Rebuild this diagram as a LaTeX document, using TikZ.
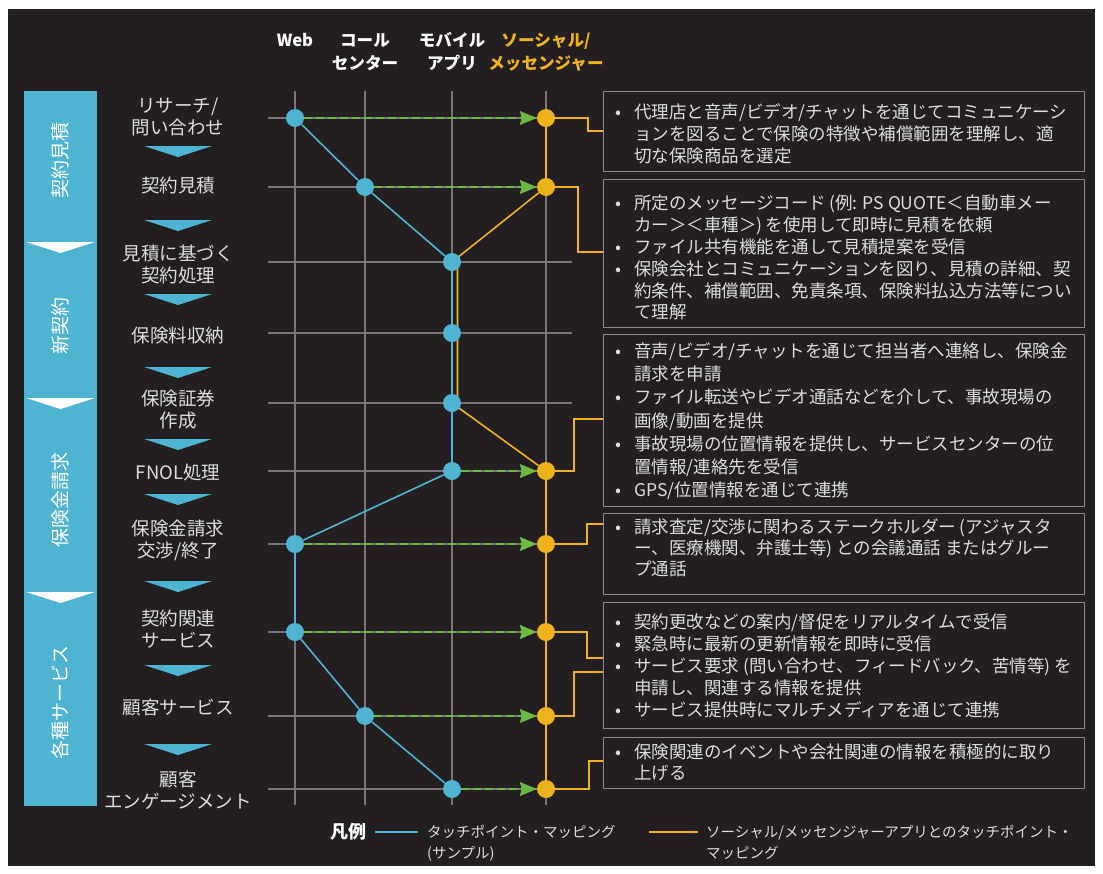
\documentclass[tikz,border=0pt]{standalone}
\usepackage{fontspec}
\setmainfont{Noto Sans CJK JP}
\usetikzlibrary{arrows.meta}
\definecolor{bgdark}{HTML}{231F20}
\definecolor{gridgray}{HTML}{77777A}
\definecolor{tpblue}{HTML}{4FB3D2}
\definecolor{tpyellow}{HTML}{EFB31A}
\definecolor{tpgreen}{HTML}{6DB843}
\definecolor{txtlight}{HTML}{DCDCDC}
\definecolor{boxgray}{HTML}{8A8A8A}
\pgfdeclarelayer{bglayer}
\pgfdeclarelayer{edgelayer}
\pgfsetlayers{bglayer,edgelayer,main}
\newcommand\fstrut{\rule{0pt}{0.86em}}
\newcommand\bulletmark{\llap{\makebox[32pt][c]{•}}}
\begin{document}
\begin{tikzpicture}[x=1pt,y=-1pt,
  gridline/.style={draw=gridgray,line width=1.4pt},
  bdot/.style={circle,fill=tpblue,minimum size=18pt,inner sep=0pt},
  ydot/.style={circle,fill=tpyellow,minimum size=18pt,inner sep=0pt},
  bline/.style={draw=tpblue,line width=1.6pt},
  yline/.style={draw=tpyellow,line width=1.6pt,line join=round},
  yconn/.style={draw=tpyellow,line width=1.4pt},
  garrow/.style={draw=tpgreen,line width=2.8pt,dash pattern=on 8pt off 4pt,-{Stealth[length=17pt,width=14pt,inset=2pt,line width=0.5pt]}},
  infobox/.style={draw=boxgray,line width=1.3pt,inner sep=0pt,anchor=north west,minimum width=481pt},
  boxtext/.style={font=\fontsize{17.5pt}{#1pt}\selectfont,align=left,inner sep=0pt,text=txtlight,anchor=north west},
  steplabel/.style={font=\fontsize{18.5pt}{22.5pt}\selectfont,align=center,inner sep=0pt,text=txtlight,anchor=north},
  chevron/.style={fill=tpblue},
  phasetext/.style={font=\fontsize{19pt}{19pt}\selectfont,text=white,rotate=90,inner sep=0pt},
  head/.style={font=\bfseries\fontsize{16.6pt}{23pt}\selectfont,align=center,inner sep=0pt,anchor=north,text=white},
  legendtext/.style={font=\fontsize{14.5pt}{21pt}\selectfont,align=left,inner sep=0pt,text=txtlight,anchor=north west}
]
\begin{pgfonlayer}{bglayer}
\fill[white] (0,0) rectangle (1103,873);
\fill[bgdark] (8,9) rectangle (1095,866);
\end{pgfonlayer}
\useasboundingbox (0,0) rectangle (1103,873);

% header
\node[head] (hweb) at (295,32) {\fstrut Web};
\node[head] (hcall) at (365,32) {\fstrut コール\\センター};
\node[head] (hmob) at (452,32) {\fstrut モバイル\\アプリ};
\node[head,text=tpyellow] (hsoc) at (546,32) {\fstrut ソーシャル/\\メッセンジャー};

% phase bar
\fill[tpblue] (24,91) rectangle (97,806);
\foreach \t in {242,398,592} \fill[white] (26,\t) -- (95,\t) -- (60.5,\t+11) -- cycle;
\node[phasetext] (ph1) at (60.5,160) {契約見積};
\node[phasetext] (ph2) at (60.5,326) {新契約};
\node[phasetext] (ph3) at (60.5,500) {保険金請求};
\node[phasetext] (ph4) at (60.5,702) {各種サービス};

% step labels
\node[steplabel] (l1) at (178,96.1) {\fstrut リサーチ/\\問い合わせ};
\node[steplabel] (l2) at (178,176.1) {\fstrut 契約見積};
\node[steplabel] (l3) at (178,244.1) {\fstrut 見積に基づく\\契約処理};
\node[steplabel] (l4) at (178,326.1) {\fstrut 保険料収納};
\node[steplabel] (l5) at (178,389.1) {\fstrut 保険証券\\作成};
\node[steplabel] (l6) at (178,463.1) {\fstrut FNOL処理};
\node[steplabel] (l7) at (178,519.1) {\fstrut 保険金請求\\交渉/終了};
\node[steplabel] (l8) at (178,609.1) {\fstrut 契約関連\\サービス};
\node[steplabel] (l9) at (178,698.1) {\fstrut 顧客サービス};
\node[steplabel] (l10) at (178,770.1) {\fstrut 顧客\\エンゲージメント};
\foreach \t in {146,220,294,367,439,494,581,665,744} \fill[chevron] (144,\t) -- (212,\t) -- (178,\t+11) -- cycle;

% touchpoint dots
\node[bdot] (p1) at (295,118) {};
\node[bdot] (p2) at (365,187) {};
\node[bdot] (p3) at (452,262) {};
\node[bdot] (p4) at (452,333) {};
\node[bdot] (p5) at (452,403) {};
\node[bdot] (p6) at (452,471) {};
\node[bdot] (p7) at (295,544) {};
\node[bdot] (p8) at (295,632) {};
\node[bdot] (p9) at (365,716) {};
\node[bdot] (p10) at (452,789) {};
\node[ydot] (s1) at (546,118) {};
\node[ydot] (s2) at (546,187) {};
\node[ydot] (s6) at (546,471) {};
\node[ydot] (s7) at (546,544) {};
\node[ydot] (s8) at (546,632) {};
\node[ydot] (s9) at (546,716) {};
\node[ydot] (s10) at (546,789) {};

\begin{pgfonlayer}{edgelayer}
\foreach \x in {295,365,452,546} \draw[gridline] (\x,91) -- (\x,805);
\foreach \y in {118,187,262,333,403,471,544,632,716,789} \draw[gridline] (268,\y) -- (572,\y);
\draw[yline] (s1) -- (s2) -- (p3.center) -- ([xshift=5.5pt]p3.center) -- ([xshift=5.5pt]p5.center) -- (p5.center) -- (s6) -- (s7) -- (s8) -- (s9) -- (s10);
\draw[bline] (p1) -- (p2) -- (p3) -- (p4) -- (p5) -- (p6) -- (p7) -- (p8) -- (p9) -- (p10);
\end{pgfonlayer}

% green arrows
\draw[garrow] (p1) -- (s1);
\draw[garrow] (p2) -- (s2);
\draw[garrow] (p6) -- (s6);
\draw[garrow] (p7) -- (s7);
\draw[garrow] (p8) -- (s8);
\draw[garrow] (p9) -- (s9);
\draw[garrow] (p10) -- (s10);

% info boxes
\node[infobox,minimum height=80pt] (b1) at (603,91) {};
\node[infobox,minimum height=148pt] (b2) at (603,179) {};
\node[infobox,minimum height=172pt] (b3) at (603,334) {};
\node[infobox,minimum height=81pt] (b4) at (603,513) {};
\node[infobox,minimum height=126pt] (b5) at (603,602) {};
\node[infobox,minimum height=51pt] (b6) at (603,737) {};

\node[boxtext=21.7] (t1) at (634,103.6) {\fstrut\bulletmark 代理店と音声/ビデオ/チャットを通じてコミュニケーシ\\ョンを図ることで保険の特徴や補償範囲を理解し、適\\切な保険商品を選定};
\node[boxtext=21.8] (t2) at (634,194.6) {\fstrut\bulletmark 所定のメッセージコード\,(例: PS QUOTE＜自動車メー\\カー＞＜車種＞)\,を使用して即時に見積を依頼\\\bulletmark ファイル共有機能を通して見積提案を受信\\\bulletmark 保険会社とコミュニケーションを図り、見積の詳細、契\\約条件、補償範囲、免責条項、保険料払込方法等につい\\て理解};
\node[boxtext=23.2] (t3) at (634,342.3) {\fstrut\bulletmark 音声/ビデオ/チャットを通じて担当者へ連絡し、保険金\\請求を申請\\\bulletmark ファイル転送やビデオ通話などを介して、事故現場の\\画像/動画を提供\\\bulletmark 事故現場の位置情報を提供し、サービスセンターの位\\置情報/連絡先を受信\\\bulletmark GPS/位置情報を通じて連携};
\node[boxtext=20.7] (t4) at (634,518.6) {\fstrut\bulletmark 請求査定/交渉に関わるステークホルダー (アジャスタ\\ー、医療機関、弁護士等) との会議通話 またはグルー\\プ通話};
\node[boxtext=22] (t5) at (634,613.6) {\fstrut\bulletmark 契約更改などの案内/督促をリアルタイムで受信\\\bulletmark 緊急時に最新の更新情報を即時に受信\\\bulletmark サービス要求 (問い合わせ、フィードバック、苦情等) を\\申請し、関連する情報を提供\\\bulletmark サービス提供時にマルチメディアを通じて連携};
\node[boxtext=21] (t6) at (634,743.6) {\fstrut\bulletmark 保険関連のイベントや会社関連の情報を積極的に取り\\上げる};

% elbow connectors
\coordinate (k1) at (588,131);
\coordinate (k2) at (578,252);
\coordinate (k6) at (574,419);
\coordinate (k7) at (587,524);
\coordinate (k8) at (587,658);
\coordinate (k9) at (574,672);
\coordinate (k10) at (589,761);
\draw[yconn] (s1.east) -| (k1) -- (k1 -| b1.west);
\draw[yconn] (s2.east) -| (k2) -- (k2 -| b2.west);
\draw[yconn] (s6.east) -| (k6) -- (k6 -| b3.west);
\draw[yconn] (s7.east) -| (k7) -- (k7 -| b4.west);
\draw[yconn] (s8.east) -| (k8) -- (k8 -| b5.west);
\draw[yconn] (s9.east) -| (k9) -- (k9 -| b5.west);
\draw[yconn] (s10.east) -| (k10) -- (k10 -| b6.west);

% legend
\node[font=\bfseries\fontsize{18pt}{18pt}\selectfont,text=white,inner sep=0pt] (lg) at (348.5,832) {凡例};
\draw[tpblue,line width=2pt] (375,832) -- (418,832);
\node[legendtext] (lt1) at (427,825) {\fstrut タッチポイント・マッピング\\(サンプル)};
\draw[tpyellow,line width=2pt] (649,832) -- (698,832);
\node[legendtext] (lt2) at (706,825) {\fstrut ソーシャル/メッセンジャーアプリとのタッチポイント・\\マッピング};
\end{tikzpicture}
\end{document}
